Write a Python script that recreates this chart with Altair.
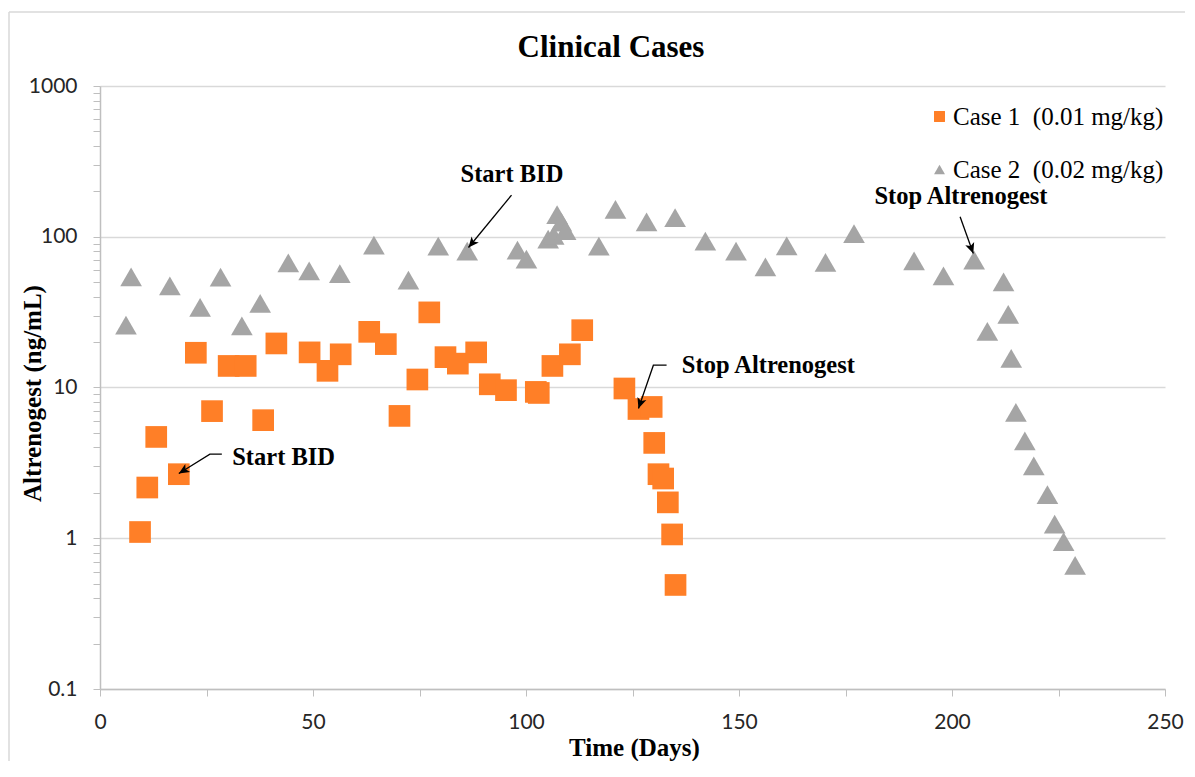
import altair as alt
import pandas as pd

# ---- data ----
case1_day = [9.4, 11.1, 13.2, 18.5, 22.5, 26.3, 30.2, 34.2, 38.3, 41.4, 49.2, 53.4, 56.5,
             63.2, 67.1, 70.3, 74.5, 77.3, 81.1, 84.0, 88.3, 91.5, 95.3, 102.3, 103.0, 106.2,
             110.3, 113.2, 123.1, 126.4, 129.5, 130.1, 131.1, 132.2, 133.3, 134.3, 135.1]
case1_val = [1.1, 2.17, 4.7, 2.66, 17.0, 6.97, 13.9, 13.9, 6.07, 19.6, 17.1, 12.9, 16.6,
             23.4, 19.4, 6.48, 11.3, 31.5, 15.9, 14.4, 17.1, 10.5, 9.6, 9.35, 9.2, 13.9,
             16.6, 24.0, 9.85, 7.2, 7.43, 4.29, 2.66, 2.49, 1.73, 1.06, 0.49]

case2_day = [6.1, 7.3, 16.4, 23.5, 28.3, 33.3, 37.6, 44.2, 49.1, 56.3, 64.3, 72.4, 79.4,
             86.2, 98.0, 100.1, 105.2, 106.5, 107.3, 108.3, 109.3, 117.1, 121.0, 128.3,
             135.0, 142.1, 149.3, 156.2, 161.2, 170.3, 177.0, 191.1, 198.0, 205.2, 208.3,
             212.1, 213.2, 213.9, 215.0, 217.1, 219.2, 222.4, 224.1, 226.2, 228.9]
case2_val = [25.9, 54.2, 47.2, 34.0, 54.0, 25.6, 36.1, 67.1, 59.4, 57.0, 87.9, 51.5, 86.6,
             80.2, 81.5, 71.0, 96.4, 102, 140, 125, 110, 86.6, 152, 125.6,
             134, 93.5, 80.2, 63.1, 87, 67.5, 105, 69.2, 55.0, 70.0, 23.6,
             50.2, 30.6, 15.6, 6.83, 4.42, 3.02, 1.95, 1.24, 0.95, 0.66]

series_names = ["Case 1 \u00a0(0.01 mg/kg)", "Case 2 \u00a0(0.02 mg/kg)"]
chart_title = "Clinical Cases"

# annotations (data coordinates)
ann_text = ["Start BID", "Start BID", "Stop Altrenogest", "Stop Altrenogest"]
ann_day = [43.1, 96.7, 156.9, 202.1]
ann_val = [3.4, 256, 13.8, 183]

arrow_id = [1, 1, 1, 2, 2, 3, 3, 3, 4, 4]
arrow_seq = [0, 1, 2, 0, 1, 0, 1, 2, 0, 1]
arrow_day = [28.6, 25.8, 18.5, 96.6, 86.5, 133.0, 129.9, 126.4, 201.9, 205.0]
arrow_val = [3.61, 3.61, 2.69, 189, 84.9, 14.06, 14.06, 7.26, 135.6, 77.5]

head_day = [18.5, 86.5, 126.4, 205.0]
head_val = [2.69, 84.9, 7.26, 77.5]
head_angle = [238.5, 219.7, 199.1, 160.0]

y_decades = [0.1, 1, 10, 100, 1000]
x_ticks = [0, 25, 50, 75, 100, 125, 150, 175, 200, 225, 250]

# ---- tables ----
pts = pd.DataFrame({
    "day": case1_day + case2_day,
    "value": case1_val + case2_val,
    "series": [series_names[0]] * len(case1_day) + [series_names[1]] * len(case2_day),
})
ann = pd.DataFrame({"day": ann_day, "value": ann_val, "text": ann_text})
arr = pd.DataFrame({"day": arrow_day, "value": arrow_val, "id": arrow_id, "seq": arrow_seq})
heads = pd.DataFrame({"day": head_day, "value": head_val, "angle": head_angle})

y_values = []
for d in y_decades[:-1]:
    for k in range(1, 10):
        y_values.append(round(d * k, 6))
y_values.append(1000)

SERIF = "Liberation Serif"
SANS = "Lato"
GRID = "#d9d9d9"
AXIS = "#bfbfbf"

x_scale = alt.Scale(domain=[0, 250], nice=False, zero=False)
y_scale = alt.Scale(type="log", domain=[0.1, 1000], nice=False)

x_axis = alt.Axis(
    values=x_ticks, labelExpr="datum.value % 50 == 0 ? datum.label : ''",
    grid=False, tickSize=7, tickColor=AXIS, domainColor=AXIS, domainWidth=1.5,
    labelFont=SANS, labelFontSize=21, labelColor="#262626", labelPadding=15,
    labelFlush=False, labelOverlap=False,
    title="Time (Days)", titleFont=SERIF, titleFontSize=25, titleFontWeight="bold",
    titleColor="#000000", titleX=534, titleY=66, titleBaseline="alphabetic", titleAlign="center",
)
y_axis = alt.Axis(
    values=y_values,
    labelExpr="indexof([0.1,1,10,100,1000], datum.value) >= 0 ? datum.label : ''",
    format="~g",
    gridColor=GRID, gridWidth=1.5,
    gridOpacity={"condition": {"test": "indexof([0.1,1,10,100,1000], datum.value) >= 0", "value": 1}, "value": 0},
    tickSize=7, tickColor=AXIS, domainColor=AXIS, domainWidth=1.5,
    labelFont=SANS, labelFontSize=21, labelColor="#262626", labelPadding=16,
    labelOverlap=False, labelFlush=False,
    title="Altrenogest (ng/mL)", titleFont=SERIF, titleFontSize=25, titleFontWeight="bold",
    titleColor="#000000", titleX=-60, titleY=307, titleBaseline="alphabetic", titleAlign="center",
)

X = alt.X("day:Q", scale=x_scale, axis=x_axis)
Y = alt.Y("value:Q", scale=y_scale, axis=y_axis)

legend = alt.Legend(
    orient="none", legendX=827, legendY=18, title=None,
    labelFont=SERIF, labelFontSize=25, labelColor="#000000", labelLimit=400,
    symbolSize=120, rowPadding=27, labelOffset=1, padding=0, symbolStrokeWidth=0,
)

points = alt.Chart(pts).mark_point(filled=True, opacity=1, size=470, strokeWidth=0).encode(
    x=X, y=Y,
    color=alt.Color("series:N", scale=alt.Scale(domain=series_names, range=["#FF7F27", "#A5A5A5"]), legend=legend),
    shape=alt.Shape("series:N", scale=alt.Scale(domain=series_names, range=["square", "triangle-up"]), legend=legend),
)

texts = alt.Chart(ann).mark_text(
    font=SERIF, fontSize=24.5, fontWeight="bold", color="#000000", align="center", baseline="middle"
).encode(x=X, y=Y, text="text:N")

arrows = alt.Chart(arr).mark_line(color="#000000", strokeWidth=1.3).encode(
    x=X, y=Y, detail="id:N", order="seq:Q"
)

arrowheads = alt.Chart(heads).mark_point(
    shape="M0,0L-0.45,1L0,0.75L0.45,1Z", filled=True, color="#000000", opacity=1, size=440, strokeWidth=0
).encode(x=X, y=Y, angle=alt.Angle("angle:Q", scale=None))

title_df = pd.DataFrame({"t": [chart_title]})
title_mark = alt.Chart(title_df).mark_text(
    font=SERIF, fontSize=31, fontWeight="bold", color="#000000", align="center", baseline="alphabetic"
).encode(x=alt.value(511), y=alt.value(-29), text="t:N")

frame_df = pd.DataFrame({"a": [0]})
border_left = alt.Chart(frame_df).mark_rule(color=GRID, strokeWidth=1.5).encode(
    x=alt.value(-91), y=alt.value(-74), y2=alt.value(675)
)
border_top = alt.Chart(frame_df).mark_rule(color=GRID, strokeWidth=1.5).encode(
    x=alt.value(-91), x2=alt.value(1085), y=alt.value(-74)
)

chart = alt.layer(border_left, border_top, points, arrows, arrowheads, texts, title_mark).properties(
    width=1065, height=603,
    autosize="none",
    padding={"left": 92, "top": 78, "right": 20, "bottom": 72},
).configure_view(strokeWidth=0)

chart.save("out.html", embed_options={"renderer": "svg", "actions": False})
